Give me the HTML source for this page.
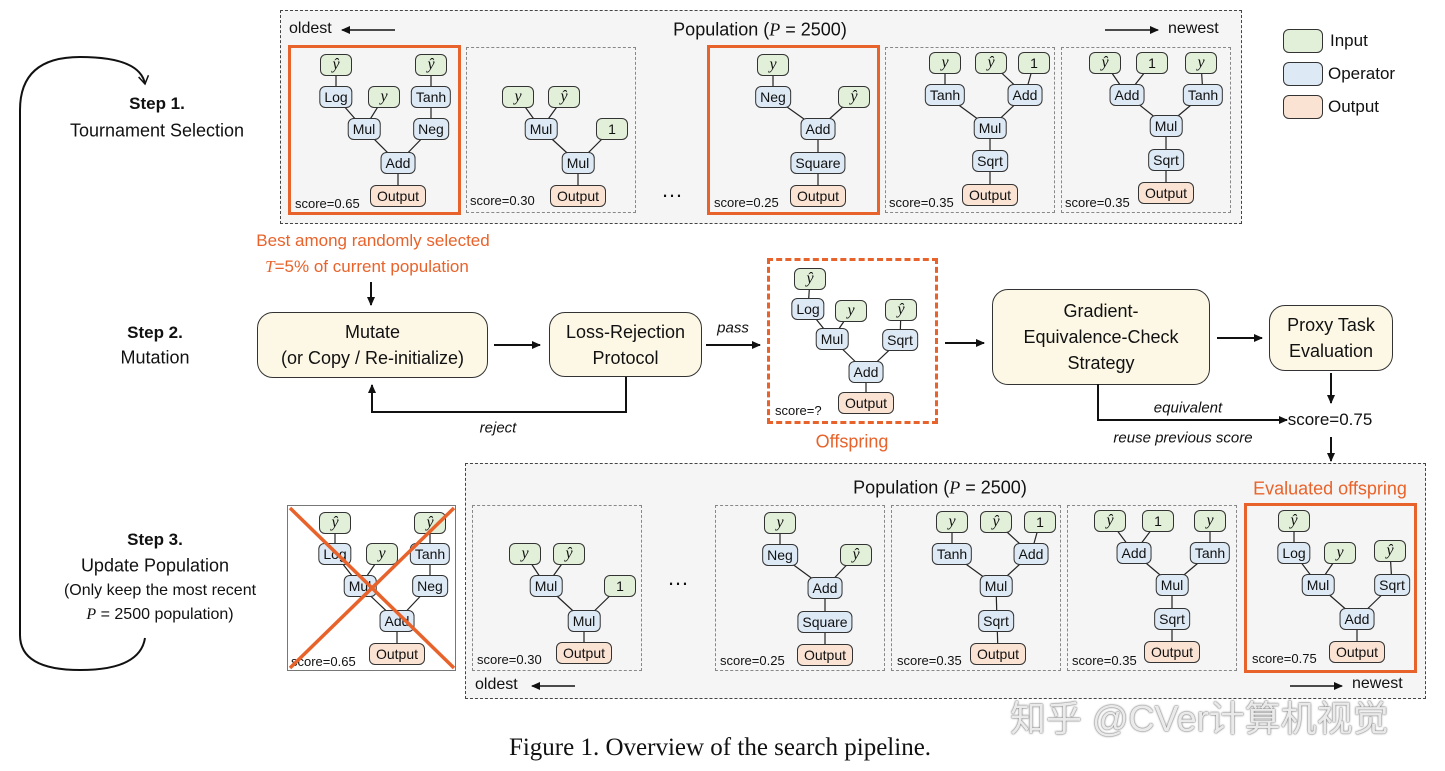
<!DOCTYPE html>
<html><head><meta charset="utf-8"><style>
body{margin:0;width:1445px;height:771px;background:#fff;position:relative;overflow:hidden;font-family:"Liberation Sans","Noto Sans CJK SC",sans-serif;color:#111}
.a{position:absolute}
.n{position:absolute;transform:translate(-50%,-50%);height:20px;line-height:20px;border:1.3px solid #333;border-radius:6px;padding:0 4px;font-size:14px;text-align:center;white-space:nowrap;background:#dde9f5;z-index:2}
.i{background:#e2efd9;min-width:22px;font-family:"Liberation Serif",serif;font-style:italic;font-size:16px}
.o{background:#fbe3d4;min-width:46px}
.t{position:absolute;transform:translate(-50%,-50%);white-space:nowrap;text-align:center}
.box{position:absolute;border:1px dashed #888;box-sizing:border-box}
.big{position:absolute;border:1px dashed #444;background:#f5f5f5;box-sizing:border-box}
.sc{position:absolute;font-size:13px}
.or{border:3px solid #e8632b}
.pb{position:absolute;background:#fdf8e6;border:1.3px solid #333;border-radius:16px;box-sizing:border-box;display:flex;align-items:center;justify-content:center;text-align:center;font-size:18px;line-height:26px}
svg{position:absolute;left:0;top:0;z-index:1}
</style></head><body>
<div class="big" style="left:280px;top:10px;width:962px;height:214px"></div>
<div class="big" style="left:465px;top:463px;width:961px;height:236px"></div>
<div class="box" style="left:466px;top:47px;width:170px;height:166px"></div>
<div class="box" style="left:885px;top:47px;width:170px;height:166px"></div>
<div class="box" style="left:1061px;top:47px;width:170px;height:166px"></div>
<div class="box or" style="left:288px;top:45px;width:173px;height:170px;border-style:solid"></div>
<div class="box or" style="left:707px;top:45px;width:173px;height:170px;border-style:solid"></div>
<div class="box" style="left:472px;top:505px;width:170px;height:166px"></div>
<div class="box" style="left:715px;top:505px;width:170px;height:166px"></div>
<div class="box" style="left:891px;top:505px;width:170px;height:166px"></div>
<div class="box" style="left:1067px;top:505px;width:170px;height:166px"></div>
<div class="box or" style="left:1244px;top:503px;width:173px;height:170px;border-style:solid"></div>
<div class="box" style="left:287px;top:505px;width:169px;height:166px;border:1px solid #777;background:#fff"></div>
<div class="box" style="left:767px;top:258px;width:171px;height:166px;border:3px dashed #e8632b"></div>

<svg width="1445" height="771">
<defs><marker id="ar" markerWidth="10" markerHeight="10" refX="8" refY="5" orient="auto" markerUnits="userSpaceOnUse"><path d="M0,1 L9,5 L0,9 z" fill="#111"/></marker>
<marker id="ar2" markerWidth="12" markerHeight="12" refX="9" refY="6" orient="auto" markerUnits="userSpaceOnUse"><path d="M1,1 L9,6 L1,11" fill="none" stroke="#111" stroke-width="1.5"/></marker></defs>
<g stroke="#222" stroke-width="1.2">
<line x1="336" y1="65" x2="336" y2="97"/><line x1="336" y1="97" x2="364" y2="129"/><line x1="384" y1="97" x2="364" y2="129"/><line x1="431" y1="65" x2="431" y2="129"/><line x1="364" y1="129" x2="398" y2="163"/><line x1="431" y1="129" x2="398" y2="163"/><line x1="398" y1="163" x2="398" y2="196"/>
<line x1="518" y1="97" x2="541" y2="129"/><line x1="564" y1="97" x2="541" y2="129"/><line x1="541" y1="129" x2="578" y2="163"/><line x1="612" y1="129" x2="578" y2="163"/><line x1="578" y1="163" x2="578" y2="196"/>
<line x1="773" y1="65" x2="773" y2="97"/><line x1="773" y1="97" x2="818" y2="129"/><line x1="854" y1="97" x2="818" y2="129"/><line x1="818" y1="129" x2="818" y2="196"/>
<line x1="945" y1="63" x2="945" y2="95"/><line x1="991" y1="63" x2="1025" y2="95"/><line x1="1034" y1="63" x2="1025" y2="95"/><line x1="945" y1="95" x2="990" y2="128"/><line x1="1025" y1="95" x2="990" y2="128"/><line x1="990" y1="128" x2="990" y2="195"/>
<line x1="1105" y1="63" x2="1127" y2="95"/><line x1="1152" y1="63" x2="1127" y2="95"/><line x1="1201" y1="63" x2="1203" y2="95"/><line x1="1127" y1="95" x2="1166" y2="126"/><line x1="1203" y1="95" x2="1166" y2="126"/><line x1="1166" y1="126" x2="1166" y2="193"/>
<line x1="810" y1="279" x2="808" y2="309"/><line x1="808" y1="309" x2="832" y2="339"/><line x1="851" y1="311" x2="832" y2="339"/><line x1="901" y1="310" x2="900" y2="340"/><line x1="832" y1="339" x2="866" y2="372"/><line x1="900" y1="340" x2="866" y2="372"/><line x1="866" y1="372" x2="866" y2="403"/>
<line x1="335" y1="523" x2="335" y2="554"/><line x1="335" y1="554" x2="360" y2="586"/><line x1="382" y1="554" x2="360" y2="586"/><line x1="430" y1="523" x2="430" y2="586"/><line x1="360" y1="586" x2="397" y2="621"/><line x1="430" y1="586" x2="397" y2="621"/><line x1="397" y1="621" x2="397" y2="654"/>
<line x1="525" y1="554" x2="546" y2="586"/><line x1="569" y1="554" x2="546" y2="586"/><line x1="546" y1="586" x2="584" y2="621"/><line x1="620" y1="586" x2="584" y2="621"/><line x1="584" y1="621" x2="584" y2="653"/>
<line x1="780" y1="523" x2="780" y2="555"/><line x1="780" y1="555" x2="825" y2="588"/><line x1="856" y1="555" x2="825" y2="588"/><line x1="825" y1="588" x2="825" y2="655"/>
<line x1="952" y1="522" x2="952" y2="554"/><line x1="996" y1="522" x2="1031" y2="554"/><line x1="1040" y1="522" x2="1031" y2="554"/><line x1="952" y1="554" x2="996" y2="586"/><line x1="1031" y1="554" x2="996" y2="586"/><line x1="996" y1="586" x2="998" y2="654"/>
<line x1="1110" y1="521" x2="1134" y2="553"/><line x1="1158" y1="521" x2="1134" y2="553"/><line x1="1210" y1="521" x2="1210" y2="553"/><line x1="1134" y1="553" x2="1172" y2="585"/><line x1="1210" y1="553" x2="1172" y2="585"/><line x1="1172" y1="585" x2="1172" y2="652"/>
<line x1="1294" y1="521" x2="1294" y2="553"/><line x1="1294" y1="553" x2="1318" y2="585"/><line x1="1340" y1="553" x2="1318" y2="585"/><line x1="1390" y1="551" x2="1392" y2="585"/><line x1="1318" y1="585" x2="1357" y2="619"/><line x1="1392" y1="585" x2="1357" y2="619"/><line x1="1357" y1="619" x2="1357" y2="652"/>
</g>
<g stroke="#111" stroke-width="2" fill="none">
<line x1="494" y1="345" x2="540" y2="345" marker-end="url(#ar)"/>
<line x1="706" y1="345" x2="760" y2="345" marker-end="url(#ar)"/>
<polyline points="626,377 626,412 372,412 372,385" marker-end="url(#ar)"/>
<line x1="945" y1="343" x2="984" y2="343" marker-end="url(#ar)"/>
<line x1="1217" y1="338" x2="1262" y2="338" marker-end="url(#ar)"/>
<line x1="1331" y1="373" x2="1331" y2="403" marker-end="url(#ar)"/>
<polyline points="1098,384 1098,420 1287,420" marker-end="url(#ar)"/>
<line x1="1331" y1="437" x2="1331" y2="461" marker-end="url(#ar)"/>
<line x1="371" y1="282" x2="371" y2="305" marker-end="url(#ar)"/>
<path d="M145,638 Q140,670 80,670 Q20,670 20,635 L20,110 Q20,57 80,57 Q140,57 145,84" stroke-width="2" marker-end="url(#ar2)"/>
</g>
<g stroke="#111" stroke-width="1.5">
<line x1="395" y1="30" x2="342" y2="30" marker-end="url(#ar)"/>
<line x1="1105" y1="30" x2="1158" y2="30" marker-end="url(#ar)"/>
<line x1="575" y1="686" x2="532" y2="686" marker-end="url(#ar)"/>
<line x1="1290" y1="686" x2="1342" y2="686" marker-end="url(#ar)"/>
</g>
</svg>

<div class="a" style="left:1283px;top:29px;width:38px;height:22px;border:1.3px solid #333;border-radius:6px;background:#e2efd9"></div>
<div class="a" style="left:1283px;top:62px;width:38px;height:22px;border:1.3px solid #333;border-radius:6px;background:#dde9f5"></div>
<div class="a" style="left:1283px;top:95px;width:38px;height:22px;border:1.3px solid #333;border-radius:6px;background:#fbe3d4"></div>
<div class="a" style="left:1330px;top:31px;font-size:17px">Input</div>
<div class="a" style="left:1328px;top:64px;font-size:17px">Operator</div>
<div class="a" style="left:1328px;top:97px;font-size:17px">Output</div>

<div class="a" style="left:289px;top:20px;font-size:16px">oldest</div>
<div class="t" style="left:760px;top:30px;font-size:18px">Population (<i style="font-family:'Liberation Serif',serif">P</i> = 2500)</div>
<div class="a" style="left:1168px;top:20px;font-size:16px">newest</div>
<div class="t" style="left:940px;top:488px;font-size:18px">Population (<i style="font-family:'Liberation Serif',serif">P</i> = 2500)</div>
<div class="t" style="left:1330px;top:489px;font-size:18px;color:#e8632b">Evaluated offspring</div>
<div class="a" style="left:475px;top:676px;font-size:16px">oldest</div>
<div class="a" style="left:1352px;top:675px;font-size:16px">newest</div>

<div class="t" style="left:157px;top:104px;font-size:17px;font-weight:bold">Step 1.</div>
<div class="t" style="left:157px;top:131px;font-size:18px">Tournament Selection</div>
<div class="t" style="left:155px;top:333px;font-size:17px;font-weight:bold">Step 2.</div>
<div class="t" style="left:155px;top:358px;font-size:18px">Mutation</div>
<div class="t" style="left:155px;top:540px;font-size:17px;font-weight:bold">Step 3.</div>
<div class="t" style="left:155px;top:566px;font-size:18px">Update Population</div>
<div class="t" style="left:160px;top:591px;font-size:16px">(Only keep the most recent</div>
<div class="t" style="left:160px;top:615px;font-size:16px"><i style="font-family:'Liberation Serif',serif">P</i> = 2500 population)</div>

<div class="t" style="left:373px;top:241px;font-size:17px;color:#e8632b">Best among randomly selected</div>
<div class="t" style="left:367px;top:267px;font-size:17px;color:#e8632b"><i style="font-family:'Liberation Serif',serif">T</i>=5% of current population</div>

<div class="pb" style="left:257px;top:312px;width:231px;height:66px">Mutate<br>(or Copy / Re-initialize)</div>
<div class="pb" style="left:549px;top:312px;width:153px;height:65px">Loss-Rejection<br>Protocol</div>
<div class="pb" style="left:992px;top:289px;width:218px;height:96px">Gradient-<br>Equivalence-Check<br>Strategy</div>
<div class="pb" style="left:1269px;top:305px;width:124px;height:66px">Proxy Task<br>Evaluation</div>
<div class="t" style="left:733px;top:328px;font-size:15px;font-style:italic">pass</div>
<div class="t" style="left:498px;top:428px;font-size:15px;font-style:italic">reject</div>
<div class="t" style="left:1188px;top:408px;font-size:15px;font-style:italic">equivalent</div>
<div class="t" style="left:1183px;top:438px;font-size:15px;font-style:italic">reuse previous score</div>
<div class="t" style="left:1330px;top:420px;font-size:17px">score=0.75</div>
<div class="t" style="left:852px;top:442px;font-size:18px;color:#e8632b">Offspring</div>
<div class="t" style="left:672px;top:190px;font-size:22px">…</div>
<div class="t" style="left:678px;top:578px;font-size:22px">…</div>

<div class="sc" style="left:295px;top:196px">score=0.65</div>
<div class="sc" style="left:470px;top:193px">score=0.30</div>
<div class="sc" style="left:714px;top:195px">score=0.25</div>
<div class="sc" style="left:889px;top:195px">score=0.35</div>
<div class="sc" style="left:1065px;top:195px">score=0.35</div>
<div class="sc" style="left:775px;top:403px">score=?</div>
<div class="sc" style="left:291px;top:654px">score=0.65</div>
<div class="sc" style="left:477px;top:652px">score=0.30</div>
<div class="sc" style="left:720px;top:653px">score=0.25</div>
<div class="sc" style="left:897px;top:653px">score=0.35</div>
<div class="sc" style="left:1072px;top:653px">score=0.35</div>
<div class="sc" style="left:1252px;top:651px">score=0.75</div>

<div class="n i" style="left:336px;top:65px">ŷ</div><div class="n i" style="left:431px;top:65px">ŷ</div>
<div class="n" style="left:336px;top:97px">Log</div><div class="n i" style="left:384px;top:97px">y</div><div class="n" style="left:431px;top:97px">Tanh</div>
<div class="n" style="left:364px;top:129px">Mul</div><div class="n" style="left:431px;top:129px">Neg</div>
<div class="n" style="left:398px;top:163px">Add</div><div class="n o" style="left:398px;top:196px">Output</div>
<div class="n i" style="left:518px;top:97px">y</div><div class="n i" style="left:564px;top:97px">ŷ</div>
<div class="n" style="left:541px;top:129px">Mul</div><div class="n i" style="left:612px;top:129px;font-style:normal;font-family:'Liberation Sans',sans-serif;font-size:14px">1</div>
<div class="n" style="left:578px;top:163px">Mul</div><div class="n o" style="left:578px;top:196px">Output</div>
<div class="n i" style="left:773px;top:65px">y</div>
<div class="n" style="left:773px;top:97px">Neg</div><div class="n i" style="left:854px;top:97px">ŷ</div>
<div class="n" style="left:818px;top:129px">Add</div><div class="n" style="left:818px;top:163px">Square</div><div class="n o" style="left:818px;top:196px">Output</div>
<div class="n i" style="left:945px;top:63px">y</div><div class="n i" style="left:991px;top:63px">ŷ</div><div class="n i" style="left:1034px;top:63px;font-style:normal;font-family:'Liberation Sans',sans-serif;font-size:14px">1</div>
<div class="n" style="left:945px;top:95px">Tanh</div><div class="n" style="left:1025px;top:95px">Add</div>
<div class="n" style="left:990px;top:128px">Mul</div><div class="n" style="left:990px;top:161px">Sqrt</div><div class="n o" style="left:990px;top:195px">Output</div>
<div class="n i" style="left:1105px;top:63px">ŷ</div><div class="n i" style="left:1152px;top:63px;font-style:normal;font-family:'Liberation Sans',sans-serif;font-size:14px">1</div><div class="n i" style="left:1201px;top:63px">y</div>
<div class="n" style="left:1127px;top:95px">Add</div><div class="n" style="left:1203px;top:95px">Tanh</div>
<div class="n" style="left:1166px;top:126px">Mul</div><div class="n" style="left:1166px;top:160px">Sqrt</div><div class="n o" style="left:1166px;top:193px">Output</div>
<div class="n i" style="left:810px;top:279px">ŷ</div>
<div class="n" style="left:808px;top:309px">Log</div><div class="n i" style="left:851px;top:311px">y</div><div class="n i" style="left:901px;top:310px">ŷ</div>
<div class="n" style="left:832px;top:339px">Mul</div><div class="n" style="left:900px;top:340px">Sqrt</div>
<div class="n" style="left:866px;top:372px">Add</div><div class="n o" style="left:866px;top:403px">Output</div>
<div class="n i" style="left:335px;top:523px">ŷ</div><div class="n i" style="left:430px;top:523px">ŷ</div>
<div class="n" style="left:335px;top:554px">Log</div><div class="n i" style="left:382px;top:554px">y</div><div class="n" style="left:430px;top:554px">Tanh</div>
<div class="n" style="left:360px;top:586px">Mul</div><div class="n" style="left:430px;top:586px">Neg</div>
<div class="n" style="left:397px;top:621px">Add</div><div class="n o" style="left:397px;top:654px">Output</div>
<div class="n i" style="left:525px;top:554px">y</div><div class="n i" style="left:569px;top:554px">ŷ</div>
<div class="n" style="left:546px;top:586px">Mul</div><div class="n i" style="left:620px;top:586px;font-style:normal;font-family:'Liberation Sans',sans-serif;font-size:14px">1</div>
<div class="n" style="left:584px;top:621px">Mul</div><div class="n o" style="left:584px;top:653px">Output</div>
<div class="n i" style="left:780px;top:523px">y</div>
<div class="n" style="left:780px;top:555px">Neg</div><div class="n i" style="left:856px;top:555px">ŷ</div>
<div class="n" style="left:825px;top:588px">Add</div><div class="n" style="left:825px;top:622px">Square</div><div class="n o" style="left:825px;top:655px">Output</div>
<div class="n i" style="left:952px;top:522px">y</div><div class="n i" style="left:996px;top:522px">ŷ</div><div class="n i" style="left:1040px;top:522px;font-style:normal;font-family:'Liberation Sans',sans-serif;font-size:14px">1</div>
<div class="n" style="left:952px;top:554px">Tanh</div><div class="n" style="left:1031px;top:554px">Add</div>
<div class="n" style="left:996px;top:586px">Mul</div><div class="n" style="left:996px;top:621px">Sqrt</div><div class="n o" style="left:998px;top:654px">Output</div>
<div class="n i" style="left:1110px;top:521px">ŷ</div><div class="n i" style="left:1158px;top:521px;font-style:normal;font-family:'Liberation Sans',sans-serif;font-size:14px">1</div><div class="n i" style="left:1210px;top:521px">y</div>
<div class="n" style="left:1134px;top:553px">Add</div><div class="n" style="left:1210px;top:553px">Tanh</div>
<div class="n" style="left:1172px;top:585px">Mul</div><div class="n" style="left:1172px;top:619px">Sqrt</div><div class="n o" style="left:1172px;top:652px">Output</div>
<div class="n i" style="left:1294px;top:521px">ŷ</div>
<div class="n" style="left:1294px;top:553px">Log</div><div class="n i" style="left:1340px;top:553px">y</div><div class="n i" style="left:1390px;top:551px">ŷ</div>
<div class="n" style="left:1318px;top:585px">Mul</div><div class="n" style="left:1392px;top:585px">Sqrt</div>
<div class="n" style="left:1357px;top:619px">Add</div><div class="n o" style="left:1357px;top:652px">Output</div>

<svg width="1445" height="771" style="z-index:3"><g stroke="#e8632b" stroke-width="3.5"><line x1="290" y1="508" x2="454" y2="668"/><line x1="454" y1="508" x2="290" y2="668"/></g></svg>

<div class="a" style="left:1010px;top:690px;font-size:36px;color:rgba(255,255,255,0.85);text-shadow:0 0 2px #777,0 0 1px #555;z-index:4">知乎 @CVer计算机视觉</div>
<div class="t" style="left:720px;top:748px;font-family:'Liberation Serif',serif;font-size:25px">Figure 1. Overview of the search pipeline.</div>
</body></html>
